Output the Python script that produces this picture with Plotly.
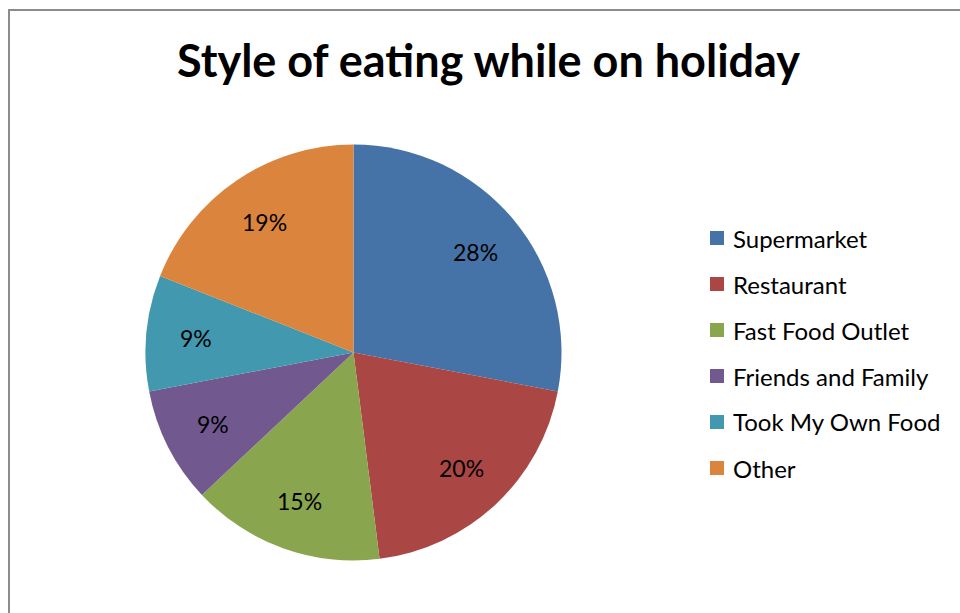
import math
import plotly.graph_objects as go

W, H = 960, 613

categories = ["Supermarket", "Restaurant", "Fast Food Outlet",
              "Friends and Family", "Took My Own Food", "Other"]
shares = [28, 20, 15, 9, 9, 19]
colors = ["#4572A7", "#AA4643", "#89A54E", "#71588F", "#4198AF", "#DB843D"]

FONT = "Lato, 'Open Sans', sans-serif"

# pie geometry in pixels (margins are zero, so paper == pixels)
cx, cy, r = 353.5, 352.5, 208

fig = go.Figure(go.Pie(
    labels=categories,
    values=shares,
    sort=False,
    direction="clockwise",
    rotation=0,
    marker=dict(colors=colors, line=dict(width=0)),
    textinfo="none",
    showlegend=False,
    hoverinfo="label+percent",
    domain=dict(x=[(cx - r) / W, (cx + r) / W],
                y=[(H - cy - r) / H, (H - cy + r) / H]),
))

shapes = [
    # chart area frame
    dict(type="rect", xref="paper", yref="paper",
         x0=9 / W, x1=(W + 20) / W, y0=-20 / H, y1=(H - 10) / H,
         line=dict(color="#8c8c8c", width=2), fillcolor="rgba(0,0,0,0)", layer="below"),
]
annotations = [
    dict(text="<b>Style of eating while on holiday</b>", x=488 / W, y=(H - 60) / H,
         xref="paper", yref="paper", showarrow=False, xanchor="center", yanchor="middle",
         font=dict(family=FONT, size=45, color="#000000")),
]

# percentage labels placed along each slice's bisector
total = sum(shares)
acc = 0.0
for v in shares:
    mid = (acc + v / 2) / total * 2 * math.pi
    acc += v
    d = 0.76 * r
    lx = cx + d * math.sin(mid)
    ly = cy - d * math.cos(mid)
    annotations.append(dict(text=f"{round(100 * v / total)}%", x=lx / W, y=(H - ly) / H,
                            xref="paper", yref="paper", showarrow=False,
                            xanchor="center", yanchor="middle",
                            font=dict(family=FONT, size=23, color="#000000")))

# legend drawn as swatches + labels
leg_x, leg_y0, leg_step, sw = 710, 238, 46, 14
for i, (name, col) in enumerate(zip(categories, colors)):
    yc = leg_y0 + i * leg_step
    shapes.append(dict(type="rect", xref="paper", yref="paper",
                       x0=leg_x / W, x1=(leg_x + sw) / W,
                       y0=(H - yc - sw / 2) / H, y1=(H - yc + sw / 2) / H,
                       line=dict(width=0), fillcolor=col))
    annotations.append(dict(text=name, x=(leg_x + sw + 7) / W, y=(H - yc) / H,
                            xref="paper", yref="paper", showarrow=False,
                            xanchor="left", yanchor="middle",
                            font=dict(family=FONT, size=24, color="#000000")))

fig.update_layout(
    width=W, height=H,
    margin=dict(l=0, r=0, t=0, b=0),
    paper_bgcolor="#ffffff",
    plot_bgcolor="#ffffff",
    shapes=shapes,
    annotations=annotations,
)

fig.write_html("out.html")
